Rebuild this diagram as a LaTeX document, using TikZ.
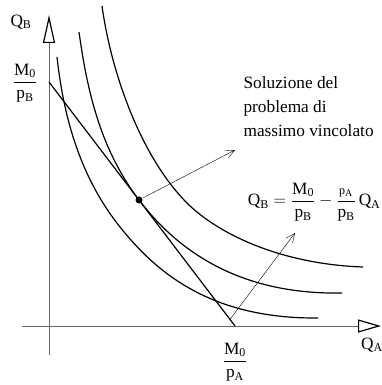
\documentclass[tikz,border=0pt]{standalone}
\usepackage{amsmath}
\usepackage{fontspec}
\setmainfont{Liberation Serif}
\usetikzlibrary{arrows.meta}

\begin{document}
\begin{tikzpicture}[x=1pt, y=1pt, line width=1.2pt,
    lab/.style={font=\fontsize{17.28}{24}\selectfont, inner sep=0pt},
    axis/.style={line width=0.6pt, black!60},
    curve/.style={line width=1.2pt},
    hint/.style={line width=0.4pt, -{Straight Barb[length=9pt, width=8pt]}},
    dot/.style={circle, fill, inner sep=0pt, minimum size=7pt}]
    \useasboundingbox (-49,-59) rectangle (333,326);

    % Axes
    \coordinate (Xs) at (-27,0);
    \coordinate (Xe) at (332,0);
    \coordinate (Ys) at (0,-29);
    \coordinate (Ye) at (0,311);
    \draw[axis, -{Triangle[open, length=23pt, width=13pt, line width=1.2pt, color=black]}] (Xs) -- (Xe);
    \draw[axis, -{Triangle[open, length=28pt, width=12pt, line width=1.2pt, color=black]}] (Ys) -- (Ye);
    \node[lab] (QA) at (323,-19) {$\mathrm{Q_A}$};
    \node[lab] (QB) at (-28,304) {$\mathrm{Q_B}$};

    % Indifference curves
    \draw[curve] (8,269) .. controls (14.6,209) and (31,149) .. (71,99)
                         .. controls (106,55.25) and (160,7) .. (269,8);
    \draw[curve] (30,294) .. controls (37.7,239) and (50,178.5) .. (90,126)
                          .. controls (125,80.1) and (185,31) .. (293,33);
    \draw[curve] (53,320) .. controls (62.8,250) and (93,168) .. (138,123)
                          .. controls (168,93) and (230,62) .. (314,59);

    % Budget line
    \coordinate (B0) at (0,244);
    \coordinate (A0) at (186,0);
    \draw (B0) -- (A0);
    \node[lab] (M0pB) at (-24,243) {$\dfrac{\mathrm{M_0}}{\mathrm{p_B}}$};
    \node[lab] (M0pA) at (186,-36) {$\dfrac{\mathrm{M_0}}{\mathrm{p_A}}$};

    % Optimum
    \node[dot] (opt) at (90,126) {};
    \coordinate (tip1) at (186,176);
    \draw[hint] (opt) -- (tip1);
    \node[lab, align=left, anchor=north west] (sol) at (194,250) {Soluzione del\\problema di\\massimo vincolato};

    % Budget equation
    \path (B0) -- (A0) coordinate[pos=0.973] (foot);
    \coordinate (tip2) at (246,93);
    \draw[hint] (foot) -- (tip2);
    \node[lab, anchor=east] (eq) at (332,124) {$\mathrm{Q_B}=\dfrac{\mathrm{M_0}}{\mathrm{p_B}}-\dfrac{\scriptstyle\mathrm{p_A}}{\mathrm{p_B}}\,\mathrm{Q_A}$};
\end{tikzpicture}
\end{document}
